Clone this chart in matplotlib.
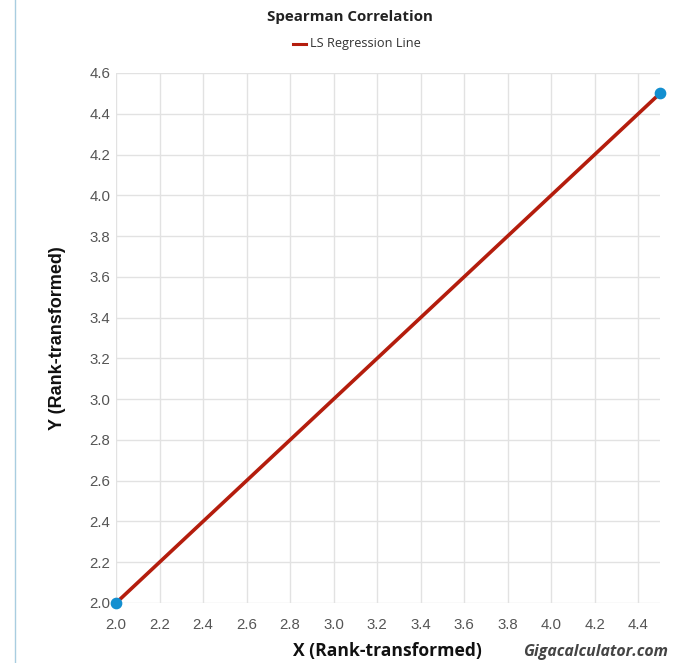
import numpy as np
import matplotlib
matplotlib.use("Agg")
import matplotlib.pyplot as plt
from matplotlib.lines import Line2D

# data
x_rank = [2.0, 4.5]
y_rank = [2.0, 4.5]
fit_x = [2.0, 4.5]
fit_y = [2.0, 4.5]
x_ticks = [2.0, 2.2, 2.4, 2.6, 2.8, 3.0, 3.2, 3.4, 3.6, 3.8, 4.0, 4.2, 4.4]
y_ticks = [2.0, 2.2, 2.4, 2.6, 2.8, 3.0, 3.2, 3.4, 3.6, 3.8, 4.0, 4.2, 4.4, 4.6]

fig = plt.figure(figsize=(6.86, 6.63), dpi=100)
ax = fig.add_axes([116 / 686, 60 / 663, 544 / 686, 530 / 663])

ax.plot(fit_x, fit_y, color="#b41d0d", lw=2.6, solid_capstyle="butt", zorder=3)
ax.scatter(x_rank, y_rank, s=55, color="#138fd0", zorder=4, clip_on=False)

ax.set_xlim(2.0, 4.5)
ax.set_ylim(2.0, 4.6)
ax.set_xticks(x_ticks)
ax.set_yticks(y_ticks)
ax.set_xticklabels([f"{v:.1f}" for v in x_ticks])
ax.set_yticklabels([f"{v:.1f}" for v in y_ticks])
ax.tick_params(length=0, labelsize=10.8, labelcolor="#555555")
ax.tick_params(axis="x", pad=11)
ax.tick_params(axis="y", pad=4)
for lbl in ax.get_xticklabels() + ax.get_yticklabels():
    lbl.set_family("Liberation Sans")
ax.grid(True, color="#e2e2e2", lw=1)
ax.set_axisbelow(True)
for s in ax.spines.values():
    s.set_visible(False)

fig.text(350 / 686, 1 - 17 / 663, "Spearman Correlation", ha="center", va="center",
         fontsize=10.9, fontweight="bold", family="Open Sans", color="#222222")
fig.add_artist(Line2D([293 / 686, 306 / 686], [1 - 44 / 663] * 2, color="#b41d0d", lw=2.2))
fig.text(310 / 686, 1 - 44 / 663, "LS Regression Line", ha="left", va="center",
         fontsize=9.2, family="Open Sans", color="#333333")

fig.text(387 / 686, 1 - 651 / 663, "X (Rank-transformed)", ha="center", va="center",
         fontsize=12.6, fontweight="bold", family="Open Sans", color="#111111")
fig.text(58 / 686, 1 - 338 / 663, "Y (Rank-transformed)", ha="center", va="center",
         rotation=90, fontsize=13, fontweight="bold", family="Liberation Sans", color="#111111")
fig.text(668 / 686, 1 - 652 / 663, "Gigacalculator.com", ha="right", va="center",
         fontsize=11.4, fontweight="bold", style="italic", family="Open Sans", color="#444444")

# page border on the left
fig.add_artist(Line2D([15 / 686] * 2, [0, 1], color="#a9cde0", lw=1))

fig.savefig("out.png", dpi=100)
